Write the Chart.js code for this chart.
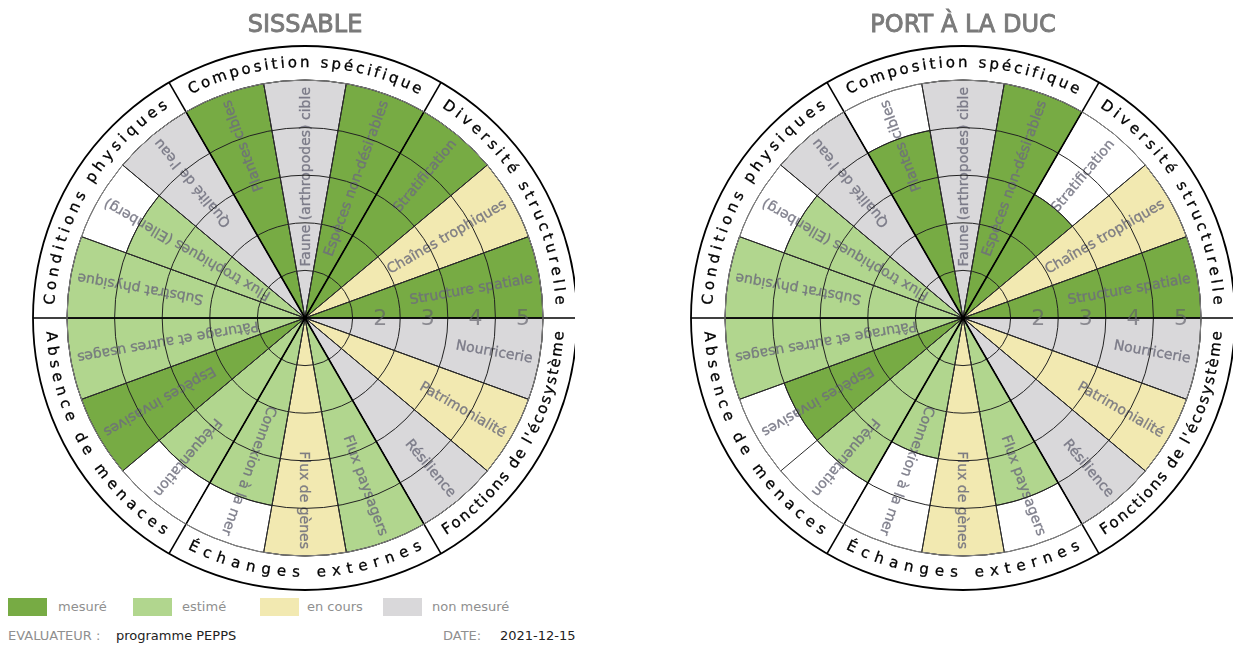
<!DOCTYPE html>
<html lang="fr">
<head>
<meta charset="utf-8">
<script src="https://cdn.jsdelivr.net/npm/chart.js@4.4.1/dist/chart.umd.min.js"></script>
<style>
  body { margin: 0; width: 1234px; height: 645px; overflow: hidden; position: relative; background: #fff;
         font-family: 'DejaVu Sans', Verdana, sans-serif; }
  canvas { position: absolute; top: 0; }
  #sissable { left: 15px; }
  #port { left: 673px; }
  .box { position: absolute; top: 598px; width: 39px; height: 18px; }
  .lbl { position: absolute; font-size: 13px; color: #8f8f8f; line-height: 16px; }
  .val { position: absolute; font-size: 13px; color: #222; line-height: 16px; }
</style>
</head>
<body>
<canvas id="sissable" width="560" height="595"></canvas>
<canvas id="port" width="560" height="595"></canvas>

<div class="box" style="left:8px;background:#77ab44"></div>
<div class="lbl" style="left:58px;top:599px">mesuré</div>
<div class="box" style="left:133px;background:#b1d68e"></div>
<div class="lbl" style="left:182px;top:599px">estimé</div>
<div class="box" style="left:260px;background:#f2e9b1"></div>
<div class="lbl" style="left:307px;top:599px">en cours</div>
<div class="box" style="left:383px;background:#d9d8da"></div>
<div class="lbl" style="left:432px;top:599px">non mesuré</div>

<div class="lbl" style="left:8px;top:628px">EVALUATEUR :</div>
<div class="val" style="left:116px;top:628px">programme PEPPS</div>
<div class="lbl" style="left:443px;top:628px">DATE:</div>
<div class="val" style="left:500px;top:628px">2021-12-15</div>

<script>
// secteurs, dans le sens horaire à partir de "Plantes cibles"
const sectorLabels = [
    'Plantes cibles', 'Faune (arthropodes) cible', 'Espèces non-désirables',
    'Stratification', 'Chaînes trophiques', 'Structure spatiale',
    'Nourricerie', 'Patrimonialité', 'Résilience',
    'Flux paysagers', 'Flux de gènes', 'Connexion à la mer',
    'Fréquentation', 'Espèces invasives', 'Pâturage et autres usages',
    'Substrat physique', 'Flux trophiques (Ellenberg)', "Qualité de l'eau"
];
// 3 secteurs par catégorie
const categories = [
    'Composition spécifique', 'Diversité structurelle', "Fonctions de l'écosystème",
    'Échanges externes', 'Absence de menaces', 'Conditions physiques'
];
const levelLabels = ['2', '3', '4', '5'];

const sissableValues = [5, 5, 5, 5, 5, 5, 5, 5, 5, 5, 5, 4, 4, 5, 5, 5, 4, 5];
const sissableStatus = [
    'mesuré', 'non mesuré', 'mesuré', 'mesuré', 'en cours', 'mesuré',
    'non mesuré', 'en cours', 'non mesuré', 'estimé', 'en cours', 'estimé',
    'estimé', 'mesuré', 'estimé', 'estimé', 'estimé', 'non mesuré'
];
const portValues = [4, 5, 5, 3, 5, 5, 5, 5, 5, 4, 5, 3, 4, 4, 5, 5, 4, 5];
const portStatus = [
    'mesuré', 'non mesuré', 'mesuré', 'mesuré', 'en cours', 'mesuré',
    'non mesuré', 'en cours', 'non mesuré', 'estimé', 'en cours', 'estimé',
    'estimé', 'mesuré', 'estimé', 'estimé', 'estimé', 'non mesuré'
];

const statusColors = {
    'mesuré': '#77ab44',
    'estimé': '#b1d68e',
    'en cours': '#f2e9b1',
    'non mesuré': '#d9d8da'
};

// texte réparti le long d'un arc
function arcText(ctx, text, cx, cy, rad, mid, span, top) {
    const chars = [...text];
    const widths = chars.map(c => ctx.measureText(c).width);
    const total = widths.reduce((a, b) => a + b, 0);
    const arcLen = span * rad;
    const gap = (arcLen - total) / (chars.length - 1);
    let pos = -arcLen / 2;
    chars.forEach((c, i) => {
        const s = pos + widths[i] / 2;
        const ang = top ? mid + s / rad : mid - s / rad;
        ctx.save();
        ctx.translate(cx + rad * Math.cos(ang), cy + rad * Math.sin(ang));
        ctx.rotate(top ? ang + Math.PI / 2 : ang - Math.PI / 2);
        ctx.fillText(c, 0, 0);
        ctx.strokeText(c, 0, 0);
        ctx.restore();
        pos += widths[i] + gap;
    });
}

const wheelPlugin = {
    id: 'wheel',
    afterDatasetsDraw(chart) {
        const ctx = chart.ctx;
        const scale = chart.scales.r;
        const cx = scale.xCenter, cy = scale.yCenter, R = scale.drawingArea;
        const arcs = chart.getDatasetMeta(0).data;
        ctx.save();
        ctx.font = '14px "DejaVu Sans"';
        ctx.fillStyle = 'rgba(110,110,125,0.85)';
        ctx.strokeStyle = 'rgba(110,110,125,0.6)';
        ctx.lineWidth = 0.45;
        ctx.textAlign = 'right';
        ctx.textBaseline = 'middle';
        arcs.forEach((arc, i) => {
            const mid = (arc.startAngle + arc.endAngle) / 2;
            ctx.save();
            ctx.beginPath();
            ctx.moveTo(cx, cy);
            ctx.arc(cx, cy, R, arc.startAngle, arc.endAngle);
            ctx.closePath();
            ctx.clip();
            ctx.translate(cx, cy);
            ctx.rotate(mid);
            ctx.fillText(chart.data.labels[i], R - 7, 1);
            ctx.strokeText(chart.data.labels[i], R - 7, 1);
            ctx.restore();
        });
        ctx.restore();
    },
    afterDraw(chart) {
        const ctx = chart.ctx;
        const scale = chart.scales.r;
        const cx = scale.xCenter, cy = scale.yCenter, R = scale.drawingArea;
        const Rout = R + 34;
        const arcs = chart.getDatasetMeta(0).data;
        ctx.save();

        // limites des secteurs
        ctx.strokeStyle = '#2a2a2a';
        ctx.lineWidth = 1;
        arcs.forEach(arc => {
            ctx.beginPath();
            ctx.moveTo(cx, cy);
            ctx.lineTo(cx + R * Math.cos(arc.startAngle), cy + R * Math.sin(arc.startAngle));
            ctx.stroke();
        });

        // limites des catégories
        ctx.strokeStyle = '#000';
        ctx.lineWidth = 1.6;
        for (let k = 0; k < categories.length; k++) {
            const a = arcs[k * 3].startAngle;
            ctx.beginPath();
            ctx.moveTo(cx, cy);
            ctx.lineTo(cx + Rout * Math.cos(a), cy + Rout * Math.sin(a));
            ctx.stroke();
        }

        // anneaux
        ctx.strokeStyle = '#888';
        ctx.lineWidth = 1;
        ctx.beginPath();
        ctx.arc(cx, cy, R, 0, Math.PI * 2);
        ctx.stroke();
        ctx.strokeStyle = '#000';
        ctx.lineWidth = 1.8;
        ctx.beginPath();
        ctx.arc(cx, cy, Rout, 0, Math.PI * 2);
        ctx.stroke();

        ctx.fillStyle = '#000';
        ctx.beginPath();
        ctx.arc(cx, cy, 2.5, 0, Math.PI * 2);
        ctx.fill();

        // niveaux
        ctx.font = '22px "DejaVu Sans"';
        ctx.fillStyle = 'rgba(95,95,105,0.65)';
        ctx.textAlign = 'center';
        ctx.textBaseline = 'middle';
        levelLabels.forEach(t => {
            const d = scale.getDistanceFromCenterForValue(Number(t) - 0.42);
            ctx.fillText(t, cx + d, cy + 1);
        });

        // catégories sur l'anneau extérieur
        ctx.font = '15px "DejaVu Sans"';
        ctx.fillStyle = '#000';
        ctx.strokeStyle = '#000';
        ctx.lineWidth = 0.3;
        categories.forEach((name, k) => {
            const mid = (arcs[k * 3].startAngle + arcs[k * 3 + 2].endAngle) / 2;
            const top = Math.sin(mid) < 0;
            arcText(ctx, name, cx, cy, R + 17, mid, 54 * Math.PI / 180, top);
        });

        // titre
        ctx.font = '24px "DejaVu Sans"';
        ctx.fillStyle = '#7a7a7a';
        ctx.strokeStyle = '#7a7a7a';
        ctx.lineWidth = 0.9;
        ctx.textAlign = 'center';
        ctx.textBaseline = 'alphabetic';
        ctx.fillText(chart.options.plugins.wheelTitle, cx, 32);
        ctx.strokeText(chart.options.plugins.wheelTitle, cx, 32);
        ctx.restore();
    }
};

function makeWheel(id, title, values, status) {
    return new Chart(document.getElementById(id), {
        type: 'polarArea',
        data: {
            labels: sectorLabels,
            datasets: [{
                data: values,
                backgroundColor: status.map(s => statusColors[s]),
                borderColor: '#2a2a2a',
                borderWidth: 1
            }]
        },
        options: {
            responsive: false,
            animation: false,
            layout: { padding: { left: 52, right: 32, top: 80, bottom: 39 } },
            scales: {
                r: {
                    min: 0,
                    max: 5,
                    startAngle: -30,
                    ticks: { display: false, stepSize: 1 },
                    grid: { color: '#222', lineWidth: 1, z: 1 }
                }
            },
            plugins: {
                legend: { display: false },
                tooltip: { enabled: false },
                wheelTitle: title
            }
        },
        plugins: [wheelPlugin]
    });
}

makeWheel('sissable', 'SISSABLE', sissableValues, sissableStatus);
makeWheel('port', 'PORT À LA DUC', portValues, portStatus);
</script>
</body>
</html>
